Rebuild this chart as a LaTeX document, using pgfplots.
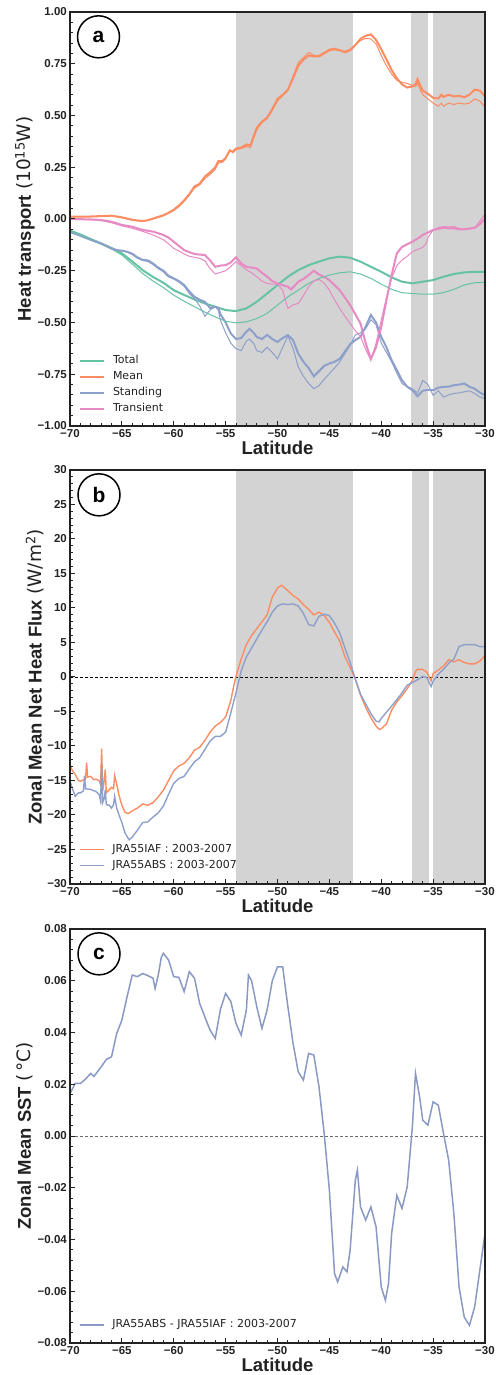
\documentclass[border=0pt]{standalone}
\usepackage{pgfplots}
\pgfplotsset{compat=1.18}
\usepackage{fontspec}
\setmainfont{Liberation Sans}
\newfontfamily\dejavu{DejaVu Sans}
\definecolor{cTot}{HTML}{66C2A5}
\definecolor{cMean}{HTML}{FC8D62}
\definecolor{cStand}{HTML}{8DA0CB}
\definecolor{cTrans}{HTML}{E78AC3}
\definecolor{cDiff}{RGB}{138,152,196}
\definecolor{shade}{HTML}{D3D3D3}
\definecolor{frame}{HTML}{222222}

\tikzset{tag/.style={circle, draw=black, line width=1.5pt, minimum size=42pt, inner sep=0pt, font=\bfseries\fontsize{21}{21}\selectfont}}

\pgfplotsset{
 common/.style={
  scale only axis, width=415pt, height=414pt,
  xmin=-70, xmax=-30,
  xtick={-70,-65,...,-30},
  xticklabels={−70,−65,−60,−55,−50,−45,−40,−35,−30},
  minor x tick num=4, minor y tick num=4,
  scaled y ticks=false,
  tick align=inside,
  xtick pos=bottom, ytick pos=left,
  major tick length=5pt, minor tick length=3pt,
  every tick/.style={frame, line width=1pt},
  axis line style={frame, line width=1.3pt},
  axis on top,
  tick label style={font=\bfseries\fontsize{11.5}{13}\selectfont, text=frame},
  xticklabel style={inner sep=0pt, anchor=north, yshift=-3pt},
  yticklabel style={inner sep=0pt, anchor=east, xshift=-3pt},
  xlabel={Latitude},
  every axis x label/.style={font=\bfseries\fontsize{18.5}{20}\selectfont, inner sep=0pt, at={(rel axis cs:0.5,0)}, anchor=north, yshift=-15pt, text=frame},
  every axis y label/.style={font=\bfseries\fontsize{18.5}{20}\selectfont, inner sep=0pt, at={(axis description cs:-0.1084,0.5)}, rotate=90, anchor=center, text=frame},
  legend image code/.code={\draw[##1] (0pt,0pt) -- (24pt,0pt);},
  legend style={draw=none, fill=none, inner sep=0pt, outer sep=0pt,
    font=\dejavu\fontsize{11}{13}\selectfont, text=frame,
    anchor=south west, at={(rel axis cs:0,0)}, xshift=9pt, yshift=12pt,
    nodes={inner sep=0pt, text height=8pt, text depth=2.5pt},
    row sep=5.5pt, column sep=8pt},
  legend cell align=left,
 },
}

\begin{document}
\begin{tikzpicture}
\path[use as bounding box] (0,0) rectangle (495pt,1375pt);

% ---------------- panel a ----------------
\begin{axis}[common, at={(70pt,949pt)}, anchor=south west,
  ymin=-1, ymax=1,
  ytick={-1,-0.75,...,1},
  yticklabels={−1.00,−0.75,−0.50,−0.25,0.00,0.25,0.50,0.75,1.00},
  ylabel={Heat transport {\mdseries\dejavu(10\textsuperscript{15}W)}},
]
\addplot[fill=shade, draw=none, forget plot] coordinates {(-54,-1) (-54,1) (-42.75,1) (-42.75,-1)} -- cycle;
\addplot[fill=shade, draw=none, forget plot] coordinates {(-37.1,-1) (-37.1,1) (-35.45,1) (-35.45,-1)} -- cycle;
\addplot[fill=shade, draw=none, forget plot] coordinates {(-35.05,-1) (-35.05,1) (-30,1) (-30,-1)} -- cycle;

\addplot[cTot, line width=2pt] coordinates {(-70,-0.056)(-69,-0.075)(-68,-0.097)(-67,-0.118)(-66,-0.14)(-65,-0.166)(-64,-0.205)(-63,-0.247)(-62,-0.28)(-61,-0.308)(-60,-0.344)(-59,-0.367)(-58,-0.389)(-57,-0.408)(-56,-0.424)(-55,-0.44)(-54,-0.445)(-53,-0.432)(-52,-0.4)(-51,-0.36)(-50,-0.319)(-49,-0.279)(-48,-0.247)(-47,-0.223)(-46,-0.206)(-45,-0.19)(-44,-0.182)(-43,-0.187)(-42,-0.206)(-41,-0.231)(-40,-0.255)(-39,-0.282)(-38,-0.303)(-37,-0.311)(-36,-0.303)(-35,-0.295)(-34,-0.279)(-33,-0.266)(-32,-0.258)(-31,-0.255)(-30,-0.256)};
\addlegendentry{Total}
\addplot[cMean, line width=2pt] coordinates {(-70,0.011)(-68,0.012)(-66,0.016)(-65,0.008)(-64,-0.004)(-63,-0.01)(-62.5,-0.006)(-62,0.002)(-61,0.018)(-60.5,0.03)(-60,0.045)(-59.5,0.065)(-59,0.09)(-58.5,0.12)(-58,0.157)(-57.5,0.17)(-57,0.205)(-56.5,0.225)(-56,0.25)(-55.7,0.28)(-55.3,0.28)(-55,0.295)(-54.6,0.33)(-54.3,0.325)(-54,0.34)(-53.5,0.345)(-53,0.36)(-52.6,0.355)(-52.3,0.4)(-52,0.44)(-51.5,0.47)(-51,0.49)(-50.5,0.53)(-50,0.58)(-49.5,0.6)(-49,0.625)(-48.5,0.68)(-48,0.74)(-47.5,0.77)(-47,0.79)(-46.5,0.785)(-46,0.785)(-45.5,0.8)(-45,0.815)(-44.5,0.82)(-44,0.815)(-43.5,0.805)(-43,0.815)(-42.5,0.84)(-42,0.87)(-41.5,0.885)(-41,0.892)(-40.5,0.865)(-40,0.82)(-39.5,0.77)(-39,0.72)(-38.5,0.68)(-38,0.65)(-37.5,0.635)(-37,0.64)(-36.7,0.65)(-36.5,0.675)(-36.2,0.64)(-36,0.62)(-35.5,0.605)(-35,0.585)(-34.5,0.582)(-34.2,0.6)(-34,0.59)(-33.5,0.6)(-33,0.592)(-32.5,0.595)(-32,0.588)(-31.5,0.6)(-31,0.625)(-30.5,0.62)(-30,0.592)};
\addlegendentry{Mean}
\addplot[cStand, line width=2pt] coordinates {(-70,-0.061)(-69,-0.08)(-68,-0.1)(-67,-0.118)(-66,-0.142)(-65.5,-0.15)(-65,-0.153)(-64.5,-0.158)(-64,-0.168)(-63.5,-0.185)(-63,-0.198)(-62.5,-0.2)(-62,-0.215)(-61.5,-0.235)(-61,-0.25)(-60.5,-0.275)(-60,-0.287)(-59.5,-0.3)(-59,-0.319)(-58.5,-0.35)(-58,-0.376)(-57.5,-0.39)(-57,-0.4)(-56.5,-0.43)(-56,-0.424)(-55.7,-0.43)(-55.5,-0.46)(-55,-0.5)(-54.5,-0.553)(-54,-0.58)(-53.5,-0.575)(-53,-0.545)(-52.7,-0.53)(-52.3,-0.55)(-52,-0.57)(-51.5,-0.58)(-51,-0.56)(-50.5,-0.58)(-50,-0.594)(-49.5,-0.575)(-49,-0.561)(-48.5,-0.585)(-48,-0.65)(-47.5,-0.69)(-47,-0.72)(-46.5,-0.76)(-46,-0.735)(-45.5,-0.71)(-45,-0.698)(-44.5,-0.69)(-44,-0.675)(-43.5,-0.64)(-43,-0.605)(-42.5,-0.585)(-42,-0.57)(-41.5,-0.52)(-41,-0.464)(-40.5,-0.5)(-40,-0.57)(-39.5,-0.62)(-39,-0.682)(-38.5,-0.73)(-38,-0.779)(-37.5,-0.81)(-37,-0.827)(-36.5,-0.856)(-36,-0.83)(-35.5,-0.825)(-35,-0.827)(-34.5,-0.815)(-34,-0.811)(-33.5,-0.81)(-33,-0.803)(-32.5,-0.8)(-32,-0.795)(-31.5,-0.81)(-31,-0.82)(-30.5,-0.838)(-30,-0.852)};
\addlegendentry{Standing}
\addplot[cTrans, line width=2pt] coordinates {(-70,0)(-68,-0.002)(-67,-0.005)(-66,-0.013)(-65,-0.029)(-64,-0.037)(-63,-0.053)(-62,-0.061)(-61,-0.077)(-60.5,-0.09)(-60,-0.11)(-59.5,-0.13)(-59,-0.15)(-58.5,-0.16)(-58,-0.169)(-57.5,-0.172)(-57,-0.174)(-56.5,-0.2)(-56,-0.231)(-55.5,-0.225)(-55,-0.223)(-54.5,-0.21)(-54,-0.185)(-53.5,-0.215)(-53,-0.231)(-52.5,-0.235)(-52,-0.239)(-51.5,-0.26)(-51,-0.279)(-50.5,-0.3)(-50,-0.311)(-49.5,-0.32)(-49,-0.327)(-48.7,-0.34)(-48.3,-0.32)(-48,-0.303)(-47.5,-0.29)(-47,-0.271)(-46.5,-0.25)(-46,-0.268)(-45.5,-0.28)(-45,-0.295)(-44.5,-0.32)(-44,-0.344)(-43.5,-0.38)(-43,-0.416)(-42.5,-0.46)(-42,-0.505)(-41.5,-0.6)(-41,-0.676)(-40.5,-0.62)(-40,-0.521)(-39.5,-0.392)(-39,-0.271)(-38.5,-0.166)(-38,-0.135)(-37.5,-0.122)(-37,-0.11)(-36.5,-0.095)(-36,-0.077)(-35.5,-0.065)(-35,-0.053)(-34.5,-0.048)(-34,-0.042)(-33.5,-0.045)(-33,-0.045)(-32.5,-0.05)(-32,-0.05)(-31.5,-0.046)(-31,-0.042)(-30.5,-0.025)(-30,0.003)};
\addlegendentry{Transient}

\addplot[cTot, line width=1pt, forget plot] coordinates {(-70,-0.06)(-69,-0.079)(-68,-0.1)(-67,-0.122)(-66,-0.145)(-65,-0.174)(-64,-0.218)(-63,-0.263)(-62,-0.3)(-61,-0.331)(-60,-0.368)(-59,-0.397)(-58,-0.424)(-57,-0.45)(-56,-0.473)(-55,-0.494)(-54,-0.502)(-53,-0.497)(-52,-0.481)(-51,-0.456)(-50,-0.416)(-49,-0.376)(-48,-0.344)(-47,-0.311)(-46,-0.287)(-45,-0.271)(-44,-0.26)(-43,-0.255)(-42,-0.266)(-41,-0.287)(-40,-0.315)(-39,-0.34)(-38,-0.356)(-37,-0.36)(-36,-0.363)(-35,-0.363)(-34,-0.356)(-33,-0.34)(-32,-0.319)(-31,-0.308)(-30,-0.306)};
\addplot[cMean, line width=1pt, forget plot] coordinates {(-70,0.01)(-68,0.011)(-66,0.014)(-65,0.006)(-64,-0.006)(-63,-0.012)(-62.5,-0.008)(-62,0)(-61,0.015)(-60.5,0.028)(-60,0.04)(-59.5,0.06)(-59,0.085)(-58.5,0.115)(-58,0.15)(-57.5,0.165)(-57,0.195)(-56.5,0.215)(-56,0.24)(-55.7,0.27)(-55.3,0.275)(-55,0.29)(-54.6,0.335)(-54.3,0.32)(-54,0.335)(-53.5,0.34)(-53,0.35)(-52.6,0.345)(-52.3,0.39)(-52,0.43)(-51.5,0.465)(-51,0.485)(-50.5,0.525)(-50,0.57)(-49.5,0.595)(-49,0.62)(-48.5,0.69)(-48,0.755)(-47.5,0.78)(-47,0.805)(-46.5,0.79)(-46,0.79)(-45.5,0.805)(-45,0.82)(-44.5,0.825)(-44,0.815)(-43.5,0.81)(-43,0.82)(-42.5,0.84)(-42,0.862)(-41.5,0.872)(-41,0.87)(-40.5,0.845)(-40,0.79)(-39.5,0.74)(-39,0.7)(-38.5,0.67)(-38,0.66)(-37.5,0.655)(-37,0.645)(-36.7,0.64)(-36.5,0.655)(-36.2,0.62)(-36,0.6)(-35.5,0.58)(-35,0.56)(-34.5,0.545)(-34.2,0.56)(-34,0.545)(-33.5,0.56)(-33,0.553)(-32.5,0.56)(-32,0.555)(-31.5,0.56)(-31,0.58)(-30.5,0.57)(-30,0.54)};
\addplot[cStand, line width=1pt, forget plot] coordinates {(-70,-0.065)(-69,-0.083)(-68,-0.103)(-67,-0.12)(-66,-0.145)(-65.5,-0.152)(-65,-0.155)(-64.5,-0.16)(-64,-0.172)(-63.5,-0.19)(-63,-0.2)(-62.5,-0.205)(-62,-0.22)(-61.5,-0.24)(-61,-0.255)(-60.5,-0.28)(-60,-0.29)(-59.5,-0.305)(-59,-0.325)(-58.5,-0.36)(-58,-0.385)(-57.5,-0.42)(-57,-0.47)(-56.5,-0.44)(-56,-0.424)(-55.7,-0.44)(-55.5,-0.49)(-55,-0.55)(-54.5,-0.6)(-54,-0.627)(-53.5,-0.636)(-53,-0.59)(-52.7,-0.58)(-52.3,-0.6)(-52,-0.636)(-51.5,-0.645)(-51,-0.62)(-50.5,-0.645)(-50,-0.676)(-49.5,-0.62)(-49,-0.565)(-48.5,-0.625)(-48,-0.715)(-47.5,-0.76)(-47,-0.795)(-46.5,-0.82)(-46,-0.805)(-45.5,-0.775)(-45,-0.747)(-44.5,-0.72)(-44,-0.69)(-43.5,-0.65)(-43,-0.61)(-42.5,-0.56)(-42,-0.55)(-41.5,-0.53)(-41,-0.487)(-40.5,-0.51)(-40,-0.6)(-39.5,-0.645)(-39,-0.69)(-38.5,-0.745)(-38,-0.795)(-37.5,-0.81)(-37,-0.82)(-36.5,-0.84)(-36,-0.78)(-35.5,-0.8)(-35,-0.852)(-34.5,-0.83)(-34,-0.86)(-33.5,-0.85)(-33,-0.843)(-32.5,-0.84)(-32,-0.835)(-31.5,-0.83)(-31,-0.843)(-30.5,-0.86)(-30,-0.868)};
\addplot[cTrans, line width=1pt, forget plot] coordinates {(-70,-0.002)(-68,-0.004)(-67,-0.008)(-66,-0.018)(-65,-0.033)(-64,-0.045)(-63,-0.06)(-62,-0.077)(-61,-0.1)(-60.5,-0.12)(-60,-0.142)(-59.5,-0.155)(-59,-0.169)(-58.5,-0.18)(-58,-0.185)(-57.5,-0.19)(-57,-0.202)(-56.5,-0.24)(-56,-0.266)(-55.5,-0.258)(-55,-0.25)(-54.5,-0.23)(-54,-0.206)(-53.5,-0.225)(-53,-0.245)(-52.5,-0.26)(-52,-0.279)(-51.5,-0.3)(-51,-0.311)(-50.5,-0.315)(-50,-0.315)(-49.5,-0.344)(-49.2,-0.4)(-49,-0.432)(-48.5,-0.415)(-48,-0.408)(-47.5,-0.37)(-47,-0.327)(-46.5,-0.3)(-46,-0.292)(-45.5,-0.31)(-45,-0.344)(-44.5,-0.39)(-44,-0.432)(-43.5,-0.47)(-43,-0.505)(-42.5,-0.54)(-42,-0.569)(-41.5,-0.63)(-41,-0.682)(-40.5,-0.6)(-40,-0.489)(-39.5,-0.38)(-39,-0.287)(-38.5,-0.225)(-38,-0.198)(-37.5,-0.18)(-37,-0.158)(-36.5,-0.147)(-36,-0.137)(-35.7,-0.12)(-35.5,-0.09)(-35,-0.053)(-34.5,-0.042)(-34,-0.037)(-33.5,-0.038)(-33,-0.037)(-32.5,-0.045)(-32,-0.05)(-31.5,-0.048)(-31,-0.045)(-30.5,-0.01)(-30,0.023)};
\node[tag] at (rel axis cs:0.0687,0.94) {a};
\end{axis}

% ---------------- panel b ----------------
\begin{axis}[common, at={(70pt,491pt)}, anchor=south west,
  ymin=-30, ymax=30,
  ytick={-30,-25,...,30},
  yticklabels={−30,−25,−20,−15,−10,−5,0,5,10,15,20,25,30},
  every axis y label/.append style={at={(axis description cs:-0.0843,0.5)}},
  ylabel={Zonal Mean Net Heat Flux {\mdseries\dejavu(W/m\textsuperscript{2})}},
  legend style={yshift=1pt},
]
\addplot[fill=shade, draw=none, forget plot] coordinates {(-54,-30) (-54,30) (-42.75,30) (-42.75,-30)} -- cycle;
\addplot[fill=shade, draw=none, forget plot] coordinates {(-37.05,-30) (-37.05,30) (-35.4,30) (-35.4,-30)} -- cycle;
\addplot[fill=shade, draw=none, forget plot] coordinates {(-35.0,-30) (-35.0,30) (-30,30) (-30,-30)} -- cycle;
\addplot[black, dashed, line width=0.8pt, dash pattern=on 3pt off 2pt, forget plot] coordinates {(-70,0) (-30,0)};

\addplot[cMean, line width=1.4pt] coordinates {(-70,-12.7)(-69.8,-13.5)(-69.5,-14.1)(-69.2,-15.0)(-69,-15.1)(-68.7,-14.9)(-68.5,-14.8)(-68.4,-12.4)(-68.3,-14.5)(-68,-14.4)(-67.7,-14.9)(-67.5,-14.8)(-67.2,-15.0)(-67.05,-15.6)(-66.95,-10.4)(-66.85,-16.5)(-66.7,-15.0)(-66.6,-13.4)(-66.5,-16.8)(-66.2,-16.3)(-66,-16.0)(-65.8,-16.2)(-65.7,-14.3)(-65.5,-15.5)(-65.3,-17.0)(-65,-18.6)(-64.7,-19.6)(-64.4,-19.8)(-64,-19.4)(-63.5,-19.0)(-63,-18.4)(-62.5,-18.6)(-62,-18.2)(-61.5,-17.4)(-61,-16.4)(-60.5,-15.0)(-60,-13.6)(-59.5,-12.9)(-59,-12.5)(-58.5,-11.7)(-58,-10.6)(-57.5,-10.2)(-57,-9.2)(-56.5,-8.0)(-56,-7.1)(-55.5,-6.6)(-55,-5.8)(-54.5,-3.4)(-54.2,-1.2)(-54,0.1)(-53.5,2.6)(-53,4.7)(-52.5,6.0)(-52,7.0)(-51.5,8.0)(-51,9.0)(-50.5,11.6)(-50,12.9)(-49.6,13.3)(-49,12.5)(-48.5,11.8)(-48,11.3)(-47.5,10.5)(-47,9.8)(-46.5,9.0)(-46,9.4)(-45.5,8.9)(-45,7.9)(-44.5,6.5)(-44,5.2)(-43.5,2.9)(-43,1.4)(-42.5,-0.3)(-42,-2.6)(-41.5,-4.4)(-41,-5.9)(-40.5,-7.1)(-40.2,-7.6)(-40,-7.5)(-39.5,-6.8)(-39,-4.8)(-38.5,-3.6)(-38,-2.7)(-37.5,-1.7)(-37,-0.5)(-36.7,0.8)(-36.5,1.1)(-36,1.1)(-35.6,0.7)(-35.2,-0.6)(-35,0.5)(-34.5,1.0)(-34,1.6)(-33.5,2.5)(-33,2.2)(-32.5,2.5)(-32,2.1)(-31.5,1.9)(-31,1.9)(-30.5,2.3)(-30,3.1)};
\addlegendentry{JRA55IAF : 2003-2007}
\addplot[cStand, line width=1.4pt] coordinates {(-70,-15.1)(-69.8,-16.0)(-69.5,-17.3)(-69.2,-16.8)(-69,-16.8)(-68.7,-16.5)(-68.6,-14.3)(-68.5,-16.2)(-68,-16.3)(-67.5,-16.6)(-67.2,-17.0)(-67.05,-18.0)(-66.95,-12.4)(-66.85,-18.2)(-66.7,-17.6)(-66.6,-16.4)(-66.5,-18.5)(-66.2,-18.6)(-66,-19.0)(-65.8,-18.5)(-65.7,-17.3)(-65.5,-19.0)(-65.2,-20.3)(-65,-21.1)(-64.7,-22.6)(-64.3,-23.6)(-64,-23.2)(-63.5,-22.2)(-63,-21.1)(-62.5,-21.0)(-62,-20.3)(-61.5,-19.7)(-61,-18.7)(-60.5,-17.0)(-60,-15.4)(-59.5,-14.7)(-59,-14.4)(-58.5,-13.3)(-58,-12.3)(-57.5,-11.7)(-57,-10.5)(-56.5,-9.3)(-56,-8.6)(-55.5,-8.6)(-55,-8.0)(-54.5,-5.2)(-54,-2.3)(-53.5,0.9)(-53,2.9)(-52.5,4.2)(-52,5.5)(-51.5,6.8)(-51,8.0)(-50.5,9.4)(-50,10.3)(-49.5,10.6)(-49,10.5)(-48.5,10.6)(-48,10.3)(-47.5,9.2)(-47,7.6)(-46.5,7.4)(-46,8.8)(-45.5,9.1)(-45,8.9)(-44.5,7.8)(-44,6.4)(-43.5,4.2)(-43,2.1)(-42.5,-0.3)(-42,-2.5)(-41.5,-3.9)(-41,-5.3)(-40.5,-6.4)(-40.2,-6.5)(-40,-6.0)(-39.5,-5.1)(-39,-4.2)(-38.5,-3.3)(-38,-2.3)(-37.5,-1.2)(-37,-0.8)(-36.5,-0.4)(-36,0.1)(-35.6,-0.1)(-35.2,-1.4)(-35,-0.6)(-34.5,0.4)(-34,1.1)(-33.5,2.0)(-33,2.6)(-32.5,4.4)(-32,4.7)(-31.5,4.7)(-31,4.7)(-30.5,4.4)(-30,4.4)};
\addlegendentry{JRA55ABS : 2003-2007}
\node[tag] at (rel axis cs:0.0699,0.94) {b};
\end{axis}

% ---------------- panel c ----------------
\begin{axis}[common, at={(70pt,32pt)}, anchor=south west,
  ymin=-0.08, ymax=0.08,
  ytick={-0.08,-0.06,-0.04,-0.02,0,0.02,0.04,0.06,0.08},
  yticklabels={−0.08,−0.06,−0.04,−0.02,0.00,0.02,0.04,0.06,0.08},
  ylabel={Zonal Mean SST {\mdseries\dejavu(\,°C)}},
  legend style={yshift=1pt},
]
\addplot[gray!85!black, dashed, line width=1pt, dash pattern=on 3pt off 2pt, forget plot] coordinates {(-70,0) (-30,0)};
\addplot[cDiff, line width=1.5pt] coordinates {(-70,0.0164)(-69.5,0.0203)(-69,0.0203)(-68.5,0.022)(-68,0.0242)(-67.7,0.023)(-67,0.0267)(-66.5,0.0296)(-66,0.0306)(-65.5,0.0396)(-65,0.0448)(-64.5,0.0538)(-64,0.0622)(-63.5,0.0616)(-63,0.0628)(-62.5,0.062)(-62,0.061)(-61.8,0.057)(-61.5,0.062)(-61.2,0.069)(-61,0.0706)(-60.5,0.068)(-60,0.0616)(-59.5,0.0613)(-59,0.0558)(-58.5,0.0635)(-58,0.061)(-57.5,0.0512)(-57,0.046)(-56.5,0.0409)(-56,0.0377)(-55.5,0.049)(-55,0.0551)(-54.5,0.052)(-54,0.0435)(-53.5,0.039)(-53,0.0487)(-52.8,0.0622)(-52.5,0.060)(-52,0.05)(-51.5,0.0416)(-51,0.0487)(-50.5,0.060)(-50,0.0654)(-49.5,0.0654)(-49,0.05)(-48.5,0.0358)(-48,0.0248)(-47.5,0.0216)(-47,0.0319)(-46.5,0.0313)(-46,0.019)(-45.5,0.001)(-45,-0.0209)(-44.5,-0.0532)(-44.2,-0.0564)(-43.7,-0.0506)(-43.3,-0.0525)(-43,-0.0441)(-42.5,-0.0171)(-42.3,-0.0132)(-42,-0.0274)(-41.5,-0.0325)(-41,-0.0274)(-40.5,-0.0351)(-40,-0.0584)(-39.6,-0.0635)(-39.3,-0.057)(-39,-0.0377)(-38.5,-0.0229)(-38,-0.028)(-37.5,-0.0197)(-37,0.0036)(-36.7,0.0242)(-36.3,0.0151)(-36,0.0061)(-35.5,0.0042)(-35,0.0132)(-34.5,0.0119)(-34,0.001)(-33.5,-0.0094)(-33,-0.03)(-32.5,-0.0584)(-32,-0.07)(-31.5,-0.0732)(-31,-0.0661)(-30.5,-0.0519)(-30,-0.0377)};
\addlegendentry{JRA55ABS - JRA55IAF : 2003-2007}
\node[tag] at (rel axis cs:0.0699,0.94) {c};
\end{axis}
\end{tikzpicture}
\end{document}
